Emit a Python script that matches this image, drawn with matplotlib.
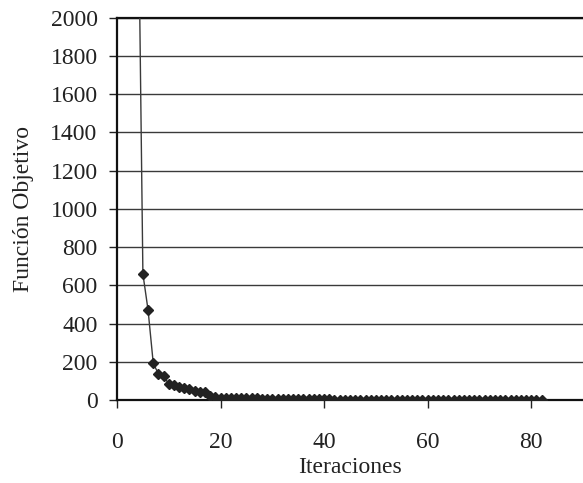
import matplotlib
matplotlib.use("Agg")
import matplotlib.pyplot as plt

# Objective function per iteration
iteraciones = list(range(4, 83))
funcion = [2900, 660, 470, 192, 136, 127, 82, 78, 70, 62,
           55, 48, 43, 40, 23, 17, 12, 11, 10, 10,
           9, 9, 8, 8, 7, 7, 7, 6, 6, 6,
           6, 5, 4, 4, 3, 3, 3, 3, 2, 2,
           2, 2, 2, 2, 2, 2, 2, 2, 1, 1,
           1, 1, 1, 1, 1, 1, 1, 1, 1, 1,
           1, 1, 1, 1, 1, 1, 1, 1, 1, 1,
           1, 1, 1, 1, 1, 1, 1, 1, 1]

yticks = [0, 200, 400, 600, 800, 1000, 1200, 1400, 1600, 1800, 2000]
xticks = [0, 20, 40, 60, 80]

plt.rcParams['font.family'] = ['Liberation Serif', 'DejaVu Serif']

fig = plt.figure(figsize=(5.83, 4.83), dpi=100)
ax = fig.add_axes([0.2007, 0.172, 0.7993, 0.791])

for y in yticks[1:]:
    ax.axhline(y, color='#3a3a3a', lw=1.0, zorder=1)

ax.plot(iteraciones, funcion, color='#3a3a3a', lw=1.0, marker='D',
        markersize=5, markerfacecolor='#222222', markeredgecolor='#222222',
        zorder=3, clip_on=True)

ax.set_xlim(0, 90)
ax.set_ylim(0, 2000)
ax.set_xticks(xticks)
ax.set_yticks(yticks)

ax.spines['right'].set_visible(False)
for s in ['left', 'bottom', 'top']:
    ax.spines[s].set_linewidth(1.6)
    ax.spines[s].set_color('#111111')

ax.tick_params(axis='x', direction='out', length=6, width=1.0, pad=17,
               labelsize=17, colors='#222222')
ax.tick_params(axis='y', direction='out', length=6, width=1.0, pad=8,
               labelsize=17, colors='#222222')

ax.set_xlabel('Iteraciones', fontsize=17, color='#222222', labelpad=3)
ax.set_ylabel('Función Objetivo', fontsize=17, color='#222222', labelpad=12)

plt.savefig("out.png", dpi=100)
